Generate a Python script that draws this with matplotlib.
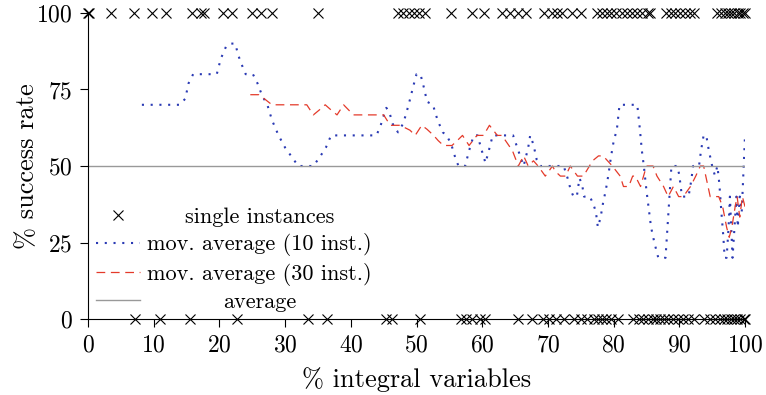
import numpy as np
import matplotlib
matplotlib.use("Agg")
from matplotlib import pyplot as plt
from matplotlib.transforms import Affine2D

plt.rcParams['font.family'] = 'cmr10'
plt.rcParams['axes.formatter.use_mathtext'] = True
plt.rcParams['mathtext.fontset'] = 'cm'

# single instances: x positions of successes (100) and failures (0)
succ_x = [0, 0.2, 3.5, 7.0, 9.7, 11.9, 15.8, 17.2, 17.6, 20.6, 21.9, 25.0, 26.4, 28.0, 35.0,
          47.2, 48.0, 48.8, 49.6, 50.4, 51.3, 55.2, 58.4, 60.2, 63.0, 64.3, 65.5, 66.6,
          69.4, 70.6, 71.4, 72.2, 73.6, 75.0, 77.5, 78.2, 79.0, 79.6, 80.4, 81.3, 82.0,
          82.8, 83.6, 84.3, 85.2, 85.6, 88.0, 88.7, 89.4, 90.1, 90.8, 91.6, 92.2,
          95.8, 96.3, 96.9, 97.4, 97.9, 98.4, 98.9, 99.3, 99.7, 100.0]
fail_x = [7.2, 11.0, 15.5, 22.7, 33.5, 36.4, 45.3, 46.2, 50.6, 56.7, 57.6, 58.5, 59.7,
          60.4, 65.5, 67.6, 69.3, 70.2, 71.3, 72.4, 73.9, 75.0, 76.0, 77.0, 77.6, 78.2,
          78.8, 79.6, 80.7, 83.0, 83.8, 84.5, 85.3, 86.0, 86.5, 87.0, 87.6, 88.3, 89.0,
          89.8, 90.6, 91.3, 92.2, 93.7, 94.7, 95.5, 96.2, 96.8, 97.3, 97.8, 98.3, 98.8,
          99.3, 99.8, 100.0]

# moving average over 10 instances
ma10_x = [8.2, 9.0, 10, 11, 12, 13, 14, 14.8, 15.3, 16.0, 17, 18, 19.6, 20.2, 21.0, 21.6,
          22.4, 22.9, 23.6, 24.0, 25.1, 25.8, 26.5, 27.3, 28, 29, 30, 31, 32, 33, 34.3,
          35.3, 36.2, 37.0, 38, 40, 42, 43.9, 44.5, 45.4, 45.8, 46.5, 47.2, 48, 48.8,
          49.5, 50.0, 50.6, 51.2, 51.6, 52.5, 53.2, 54.0, 54.6, 55.3, 56.0, 56.4, 57.4,
          58.0, 58.7, 59.3, 59.8, 60.5, 61.0, 61.6, 62.3, 64.7, 65.5, 66.3, 67.0, 67.3,
          67.8, 68.3, 68.8, 72.4, 73.0, 73.5, 73.9, 74.4, 74.8, 75.2, 75.5, 76.4, 77.0,
          77.3, 77.6, 78.0, 78.4, 78.8, 79.2, 79.6, 80.0, 80.5, 80.9, 83.6, 84.0, 84.3,
          84.6, 85.0, 85.4, 85.7, 86.2, 86.8, 87.9, 88.2, 88.5, 88.8, 89.7, 90.0, 90.4,
          91.4, 91.8, 92.1, 93.0, 93.3, 93.7, 94.1, 94.5, 95.0, 95.4, 95.8, 96.1, 96.4,
          96.7, 96.9, 97.2, 97.5, 97.7, 97.9, 98.1, 98.4, 98.7, 98.9, 99.2, 99.5, 99.7,
          99.9, 100]
ma10_y = [70, 70, 70, 70, 70, 70, 70, 72, 77, 80, 80, 80, 80, 85, 89, 90,
          90, 86, 82, 80, 80, 77, 73, 70, 65, 60, 56, 53, 50, 50, 50,
          53, 56, 60, 60, 60, 60, 60, 63, 69, 68, 63, 61, 64, 70,
          76, 80, 80, 75, 71, 70, 65, 61, 60, 57, 52, 50, 50,
          55, 60, 60, 56, 51, 55, 60, 60, 60, 55, 50, 56, 60,
          57, 52, 50, 50, 46, 42, 40, 40, 46, 44, 40, 40, 37,
          35, 30, 33, 38, 42, 47, 53, 58, 62, 70, 70, 62, 55,
          50, 42, 35, 30, 25, 20, 20, 30, 40, 50, 50, 47, 40,
          40, 45, 50, 50, 55, 60, 60, 55, 50, 47, 50, 44, 35,
          27, 20, 20, 30, 40, 30, 20, 30, 40, 30, 40, 35, 45,
          55, 60]

# moving average over 30 instances
ma30_x = [24.7, 26.0, 27.0, 28.0, 33.3, 34.3, 35.2, 36.1, 37.0, 37.9, 38.9, 40.4, 44.0,
          45.0, 46.0, 47.5, 49.0, 49.8, 50.8, 51.6, 52.6, 53.3, 54.1, 55.4, 56.2, 57.0,
          58.0, 59.2, 60.2, 61.1, 62.3, 63.0, 64.6, 65.5, 66.3, 67.0, 67.8, 68.5, 69.6,
          70.7, 71.1, 71.9, 72.7, 73.4, 74.5, 75.4, 76.8, 77.7, 78.4, 79.8, 81.0, 81.5,
          82.3, 82.9, 83.3, 84.1, 85.0, 86.0, 86.6, 87.6, 88.3, 89.1, 89.9, 90.6, 91.7,
          92.5, 93.2, 93.7, 94.7, 96.0, 96.6, 97.2, 97.6, 98.0, 98.5, 98.8, 99.2, 99.6, 100]
ma30_y = [73.3, 73.3, 71.7, 70, 70, 66.7, 68.3, 70, 68.3, 66.7, 70, 66.7, 66.7,
          66.7, 63.3, 63.3, 61.7, 60, 63.3, 62, 60, 58.3, 56.7, 56.7, 58.3, 60,
          56.7, 60, 60, 63.3, 60, 60, 55, 50, 53.3, 50, 51.7, 50, 46.7,
          50, 48.3, 46.7, 46.7, 50, 46.7, 46.7, 51.7, 53.3, 53.3, 50, 46.7, 43.3,
          43.3, 46.7, 46.7, 43.3, 50, 50, 46.7, 43.3, 40, 43.3, 40, 40, 43.3,
          46.7, 50, 50, 40, 40, 36.7, 30, 26.7, 30, 36.7, 40, 33.3, 40, 36.7]

avg_rate = 50

fig = plt.figure(figsize=(7.66, 3.95), dpi=100)
ax = fig.add_axes([0.1149, 0.1924, 0.8577, 0.7747])

ax.plot(succ_x, [100] * len(succ_x), 'x', color='black', ms=6.5, mew=0.8,
        clip_on=False, zorder=5, label='single instances')
ax.plot(fail_x, [0] * len(fail_x), 'x', color='black', ms=6.5, mew=0.8,
        clip_on=False, zorder=5)
ax.plot(ma10_x, ma10_y, color='#2a3ab4', lw=1.5, linestyle=(0, (1, 3.2)),
        label='mov. average (10 inst.)')
ax.plot(ma30_x, ma30_y, color='#e43a2a', lw=0.9, linestyle=(0, (7, 4.5)),
        label='mov. average (30 inst.)')
ax.plot([0, 100], [avg_rate, avg_rate], color='#999999', lw=1.0, label='average')

ax.set_xlim(0, 100)
ax.set_ylim(0, 100)
ax.set_xticks(range(0, 101, 10))
ax.set_yticks([0, 25, 50, 75, 100])
ax.spines['top'].set_visible(False)
ax.spines['right'].set_visible(False)
for s in ('left', 'bottom'):
    ax.spines[s].set_linewidth(0.8)
ax.tick_params(direction='out', length=6, width=0.8, labelsize=17, pad=5)
ax.set_xlabel('% integral variables', fontsize=19, labelpad=8)
ax.set_ylabel('% success rate', fontsize=19, labelpad=-2)

leg = ax.legend(loc='upper left', bbox_to_anchor=(0.012, 0.365), frameon=False,
                fontsize=16, handlelength=2.0, handletextpad=0.3, labelspacing=0.29,
                borderpad=0, borderaxespad=0)

# centre the legend texts in their column, like pgfplots
fig.canvas.draw()
r = fig.canvas.get_renderer()
texts = leg.get_texts()
widths = [t.get_window_extent(r).width for t in texts]
wmax = max(widths)
for t, w in zip(texts, widths):
    t.set_transform(t.get_transform() + Affine2D().translate((wmax - w) / 2, 0))

fig.savefig('out.png', dpi=100)
